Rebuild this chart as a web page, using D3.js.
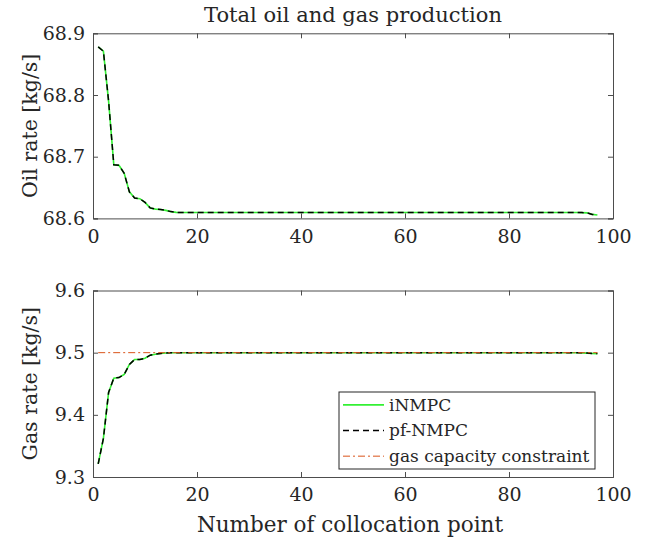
<!DOCTYPE html>
<html>
<head>
<meta charset="utf-8">
<script src="https://cdn.jsdelivr.net/npm/d3@7"></script>
<style>
  body { margin: 0; background: #fff; }
  text { font-family: "DejaVu Serif", serif; fill: #262626; }
</style>
</head>
<body>
<div id="chart"></div>
<script>
// collocation points 1..97
var points = [];
for (var i = 1; i <= 97; i++) points.push(i);

// Oil rate [kg/s]
var oilRate = [
  68.878, 68.871, 68.79, 68.687, 68.686, 68.673, 68.643, 68.633, 68.632, 68.626,
  68.617, 68.615, 68.6145, 68.613, 68.611, 68.6098, 68.6096, 68.6096, 68.6096, 68.6096,
  68.6096, 68.6096, 68.6096, 68.6096, 68.6096, 68.6096, 68.6096, 68.6096, 68.6096, 68.6096,
  68.6096, 68.6096, 68.6096, 68.6096, 68.6096, 68.6096, 68.6096, 68.6096, 68.6096, 68.6096,
  68.6096, 68.6096, 68.6096, 68.6096, 68.6096, 68.6096, 68.6096, 68.6096, 68.6096, 68.6096,
  68.6096, 68.6096, 68.6096, 68.6096, 68.6096, 68.6096, 68.6096, 68.6096, 68.6096, 68.6096,
  68.6096, 68.6096, 68.6096, 68.6096, 68.6096, 68.6096, 68.6096, 68.6096, 68.6096, 68.6096,
  68.6096, 68.6096, 68.6096, 68.6096, 68.6096, 68.6096, 68.6096, 68.6096, 68.6096, 68.6096,
  68.6096, 68.6096, 68.6096, 68.6096, 68.6096, 68.6096, 68.6096, 68.6096, 68.6096, 68.6096,
  68.6096, 68.6096, 68.6096, 68.6094, 68.609, 68.6065, 68.6055
];

// Gas rate [kg/s]
var gasRate = [
  9.321, 9.362, 9.436, 9.459, 9.460, 9.465, 9.481, 9.489, 9.489, 9.491,
  9.496, 9.4975, 9.4988, 9.4995, 9.4998, 9.4999, 9.4999, 9.4999, 9.4999, 9.4999,
  9.4999, 9.4999, 9.4999, 9.4999, 9.4999, 9.4999, 9.4999, 9.4999, 9.4999, 9.4999,
  9.4999, 9.4999, 9.4999, 9.4999, 9.4999, 9.4999, 9.4999, 9.4999, 9.4999, 9.4999,
  9.4999, 9.4999, 9.4999, 9.4999, 9.4999, 9.4999, 9.4999, 9.4999, 9.4999, 9.4999,
  9.4999, 9.4999, 9.4999, 9.4999, 9.4999, 9.4999, 9.4999, 9.4999, 9.4999, 9.4999,
  9.4999, 9.4999, 9.4999, 9.4999, 9.4999, 9.4999, 9.4999, 9.4999, 9.4999, 9.4999,
  9.4999, 9.4999, 9.4999, 9.4999, 9.4999, 9.4999, 9.4999, 9.4999, 9.4999, 9.4999,
  9.4999, 9.4999, 9.4999, 9.4999, 9.4999, 9.4999, 9.4999, 9.4999, 9.4999, 9.4999,
  9.4999, 9.4999, 9.4999, 9.4997, 9.4993, 9.4988, 9.4985
];

var gasCapacity = 9.5;

var xTicks = [0, 20, 40, 60, 80, 100];
var oilTicks = [68.6, 68.7, 68.8, 68.9];
var gasTicks = [9.3, 9.4, 9.5, 9.6];

var legendLabels = ["iNMPC", "pf-NMPC", "gas capacity constraint"];

var width = 649, height = 543;
var green = "#33f033", black = "#000", red = "#d95319";
var serif = "'DejaVu Serif', serif";

var svg = d3.select("#chart").append("svg")
    .attr("width", width)
    .attr("height", height);

var x = d3.scaleLinear().domain([0, 100]).range([93, 613]);

// draw one MATLAB-style panel
function panel(yDomain, yRange, ticks, series, label) {
  var y = d3.scaleLinear().domain(yDomain).range(yRange);
  var g = svg.append("g");

  var line = d3.line()
      .x(function(d, i) { return x(points[i]); })
      .y(function(d) { return y(d); });

  g.append("path").datum(series)
      .attr("d", line)
      .attr("fill", "none")
      .attr("stroke", green)
      .attr("stroke-width", 1.6);

  g.append("path").datum(series)
      .attr("d", line)
      .attr("fill", "none")
      .attr("stroke", black)
      .attr("stroke-width", 1.5)
      .attr("stroke-dasharray", "6,4");

  // box + ticks
  var t = 5;
  g.append("g").attr("transform", "translate(0," + yRange[0] + ")")
      .call(d3.axisBottom(x).tickValues(xTicks).tickSize(-t).tickPadding(11).tickFormat(d3.format("d")));
  g.append("g").attr("transform", "translate(0," + yRange[1] + ")")
      .call(d3.axisTop(x).tickValues(xTicks).tickSize(-t).tickFormat(""));
  g.append("g").attr("transform", "translate(" + x.range()[0] + ",0)")
      .call(d3.axisLeft(y).tickValues(ticks).tickSize(-t).tickPadding(8).tickFormat(d3.format(".1f")));
  g.append("g").attr("transform", "translate(" + x.range()[1] + ",0)")
      .call(d3.axisRight(y).tickValues(ticks).tickSize(-t).tickFormat(""));

  g.selectAll("g").attr("font-family", null);
  g.selectAll(".domain").attr("stroke", "#4d4d4d").attr("stroke-width", 1);
  g.selectAll(".tick line").attr("stroke", "#4d4d4d");
  g.selectAll(".tick text")
      .style("font-family", serif)
      .style("font-size", "19px")
      .attr("fill", "#262626");

  g.append("text")
      .attr("transform", "translate(37," + ((yRange[0] + yRange[1]) / 2) + ") rotate(-90)")
      .attr("text-anchor", "middle")
      .style("font-size", "20.5px")
      .text(label);

  return y;
}

panel([68.6, 68.9], [218.4, 33.3], oilTicks, oilRate, "Oil rate [kg/s]");
var yGas = panel([9.3, 9.6], [477, 290.5], gasTicks, gasRate, "Gas rate [kg/s]");

// capacity constraint line
svg.append("line")
    .attr("x1", x(points[0])).attr("x2", x(points[points.length - 1]))
    .attr("y1", yGas(gasCapacity)).attr("y2", yGas(gasCapacity))
    .attr("stroke", red)
    .attr("stroke-width", 1)
    .attr("stroke-dasharray", "7,3,2,3");

svg.append("text")
    .attr("x", 353).attr("y", 22)
    .attr("text-anchor", "middle")
    .style("font-size", "21px")
    .text("Total oil and gas production");

svg.append("text")
    .attr("x", 350).attr("y", 532)
    .attr("text-anchor", "middle")
    .style("font-size", "21.5px")
    .text("Number of collocation point");

// legend
var lg = svg.append("g");
lg.append("rect")
    .attr("x", 339).attr("y", 392)
    .attr("width", 256).attr("height", 77)
    .attr("fill", "#fff")
    .attr("stroke", "#262626")
    .attr("stroke-width", 1);

var styles = [
  { color: green, dash: null, w: 1.6 },
  { color: black, dash: "6,4", w: 1.5 },
  { color: red, dash: "7,3,2,3", w: 1 }
];
var ly = d3.scaleBand().domain(legendLabels).range([392, 469]);

legendLabels.forEach(function(d, i) {
  var cy = ly(d) + ly.bandwidth() / 2;
  lg.append("line")
      .attr("x1", 343).attr("x2", 384)
      .attr("y1", cy).attr("y2", cy)
      .attr("stroke", styles[i].color)
      .attr("stroke-width", styles[i].w)
      .attr("stroke-dasharray", styles[i].dash);
  lg.append("text")
      .attr("x", 389).attr("y", cy)
      .attr("dy", "0.35em")
      .style("font-size", "17px")
      .text(d);
});
</script>
</body>
</html>
